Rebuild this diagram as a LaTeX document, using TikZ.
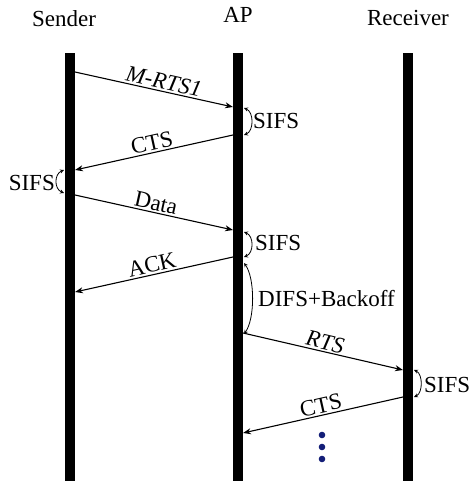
\documentclass[tikz,border=0pt]{standalone}
\usepackage{fontspec}
\setmainfont{Liberation Serif}
\usetikzlibrary{arrows.meta}
\definecolor{dotblue}{RGB}{20,30,120}
\begin{document}
\begin{tikzpicture}[x=1pt,y=-1pt,
  bar/.style={fill=black},
  msg/.style={line width=1.1pt,-{Stealth[length=8pt,width=6pt]}},
  gap/.style={line width=0.8pt,{Stealth[open,length=4pt,width=4pt]}-{Stealth[open,length=4pt,width=4pt]}},
  lbl/.style={font=\fontsize{23}{27}\selectfont},
  mlbl/.style={lbl, sloped, above, inner sep=1.5pt, midway},
  ttl/.style={lbl, anchor=base, inner sep=0pt},
  dotc/.style={fill=dotblue}
]
\useasboundingbox (0,0) rectangle (472,481);
% titles
\node[ttl] (tS) at (64,27) {Sender};
\node[ttl] (tA) at (238,23) {AP};
\node[ttl] (tR) at (408,26) {Receiver};
% bars
\fill[bar] (65,53) rectangle (75,481);
\fill[bar] (233,53) rectangle (243,481);
\fill[bar] (403,53) rectangle (413,481);
% coordinates
\coordinate (s1) at (75,72);   \coordinate (a1) at (233,107);
\coordinate (a2) at (233,135); \coordinate (s2) at (75,170);
\coordinate (s3) at (75,195);  \coordinate (a3) at (233,230);
\coordinate (a4) at (233,257); \coordinate (s4) at (75,292);
\coordinate (a5) at (243,333); \coordinate (r5) at (403,370);
\coordinate (r6) at (403,397); \coordinate (a6) at (243,433);
\coordinate (g1a) at (244,108); \coordinate (g1b) at (244,135);
\coordinate (g2a) at (64,170);  \coordinate (g2b) at (64,193);
\coordinate (g3a) at (244,232); \coordinate (g3b) at (244,257);
\coordinate (g4a) at (244,263); \coordinate (g4b) at (244,334);
\coordinate (g5a) at (414,370); \coordinate (g5b) at (414,397);
% messages
\draw[msg] (s1) -- node[mlbl, pos=0.55] {\itshape M-RTS1} (a1);
\draw[msg] (a2) -- node[mlbl] {CTS} (s2);
\draw[msg] (s3) -- node[mlbl] {Data} (a3);
\draw[msg] (a4) -- node[mlbl] {ACK} (s4);
\draw[msg] (a5) -- node[mlbl] {\itshape RTS} (r5);
\draw[msg] (r6) -- node[mlbl] {CTS} (a6);
% gaps
\draw[gap] (g1a) .. controls +(10,4) and +(10,-4) .. (g1b);
\node[lbl, anchor=west, inner sep=0pt] (l1) at (253,121) {SIFS};
\draw[gap] (g2a) .. controls +(-10,4) and +(-10,-4) .. (g2b);
\node[lbl, anchor=east, inner sep=0pt] (l2) at (55,183) {SIFS};
\draw[gap] (g3a) .. controls +(10,4) and +(10,-4) .. (g3b);
\node[lbl, anchor=west, inner sep=0pt] (l3) at (255,243) {SIFS};
\draw[gap] (g4a) .. controls +(11,15) and +(11,-15) .. (g4b);
\node[lbl, anchor=west, inner sep=0pt] (l4) at (258,299) {DIFS+Backoff};
\draw[gap] (g5a) .. controls +(9,4) and +(9,-4) .. (g5b);
\node[lbl, anchor=west, inner sep=0pt] (l5) at (424,385) {SIFS};
% dots
\fill[dotc] (322,435) circle (3.3);
\fill[dotc] (322,447) circle (3.3);
\fill[dotc] (322,459) circle (3.3);
\end{tikzpicture}
\end{document}
